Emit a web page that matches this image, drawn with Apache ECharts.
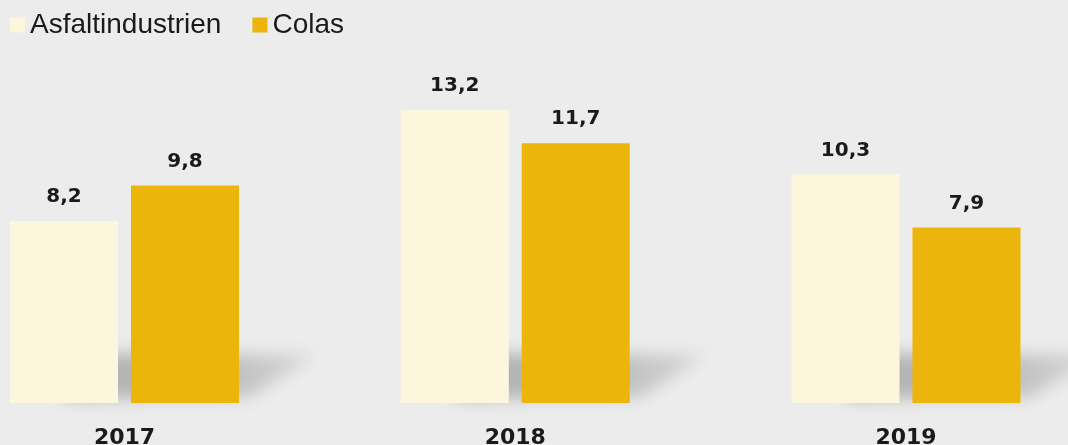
<!DOCTYPE html>
<html>
<head>
<meta charset="utf-8">
<script src="https://cdn.jsdelivr.net/npm/echarts@6/dist/echarts.min.js"></script>
<style>
  html, body { margin: 0; padding: 0; background: #ececec; }
  #main { width: 1068px; height: 445px; }
</style>
</head>
<body>
<div id="main"></div>
<script>
var years = ['2017', '2018', '2019'];
var asfaltindustrien = [8.2, 13.2, 10.3];
var colas = [9.8, 11.7, 7.9];

var myChart = echarts.init(document.getElementById('main'));

// soft floor shadow behind each pair of bars (only the blurred shadow is visible,
// the shape itself is pushed off to the left)
var OFF = 3000;
function shadowItem(params, api) {
    var p = api.coord([api.value(0), 0]);
    var cx = p[0] - OFF, by = p[1];
    return {
        type: 'polygon',
        shape: {
            points: [[cx - 60, by - 4], [cx - 60, by - 50], [cx + 192, by - 48], [cx + 126, by - 6]]
        },
        style: {
            fill: new echarts.graphic.LinearGradient(0, 0, 1, 0, [
                { offset: 0, color: 'rgba(0,0,0,1)' },
                { offset: 0.6, color: 'rgba(0,0,0,0.8)' },
                { offset: 1, color: 'rgba(0,0,0,0.35)' }
            ]),
            shadowBlur: 16,
            shadowOffsetX: OFF,
            shadowColor: 'rgba(150,150,150,0.7)'
        }
    };
}

var labelStyle = {
    show: true,
    position: 'top',
    distance: 14,
    fontFamily: 'DejaVu Sans',
    fontWeight: 'bold',
    fontSize: 20,
    color: '#1a1a1a',
    formatter: function (p) { return String(p.value).replace('.', ','); }
};

var option = {
    backgroundColor: '#ececec',
    animation: false,
    legend: {
        data: ['Asfaltindustrien', 'Colas'],
        left: 10,
        top: 11,
        padding: 0,
        icon: 'rect',
        itemWidth: 15,
        itemHeight: 15,
        itemGap: 31,
        textStyle: {
            fontFamily: 'Liberation Sans',
            fontSize: 28,
            color: '#1a1a1a'
        }
    },
    grid: {
        left: 124.5,
        right: 162,
        top: 70,
        bottom: 42,
        outerBoundsMode: 'none'
    },
    xAxis: {
        type: 'category',
        data: years,
        boundaryGap: false,
        axisLine: { show: false },
        axisTick: { show: false },
        axisLabel: {
            margin: 24,
            fontFamily: 'DejaVu Sans',
            fontWeight: 'bold',
            fontSize: 22,
            color: '#1a1a1a'
        }
    },
    yAxis: {
        type: 'value',
        min: 0,
        max: 15,
        show: false,
        splitLine: { show: false }
    },
    series: [
        {
            type: 'custom',
            name: 'shadow',
            renderItem: shadowItem,
            data: years.map(function (y) { return [y, 0]; }),
            encode: { x: 0, y: 1 },
            clip: false,
            z: 1,
            silent: true
        },
        {
            name: 'Asfaltindustrien',
            type: 'bar',
            data: asfaltindustrien,
            barWidth: 108,
            barGap: '12%',
            clip: false,
            itemStyle: { color: '#fcf7dc' },
            label: labelStyle,
            z: 2
        },
        {
            name: 'Colas',
            type: 'bar',
            data: colas,
            barWidth: 108,
            clip: false,
            itemStyle: { color: '#ebb50c' },
            label: labelStyle,
            z: 2
        }
    ]
};
myChart.setOption(option);
</script>
</body>
</html>
